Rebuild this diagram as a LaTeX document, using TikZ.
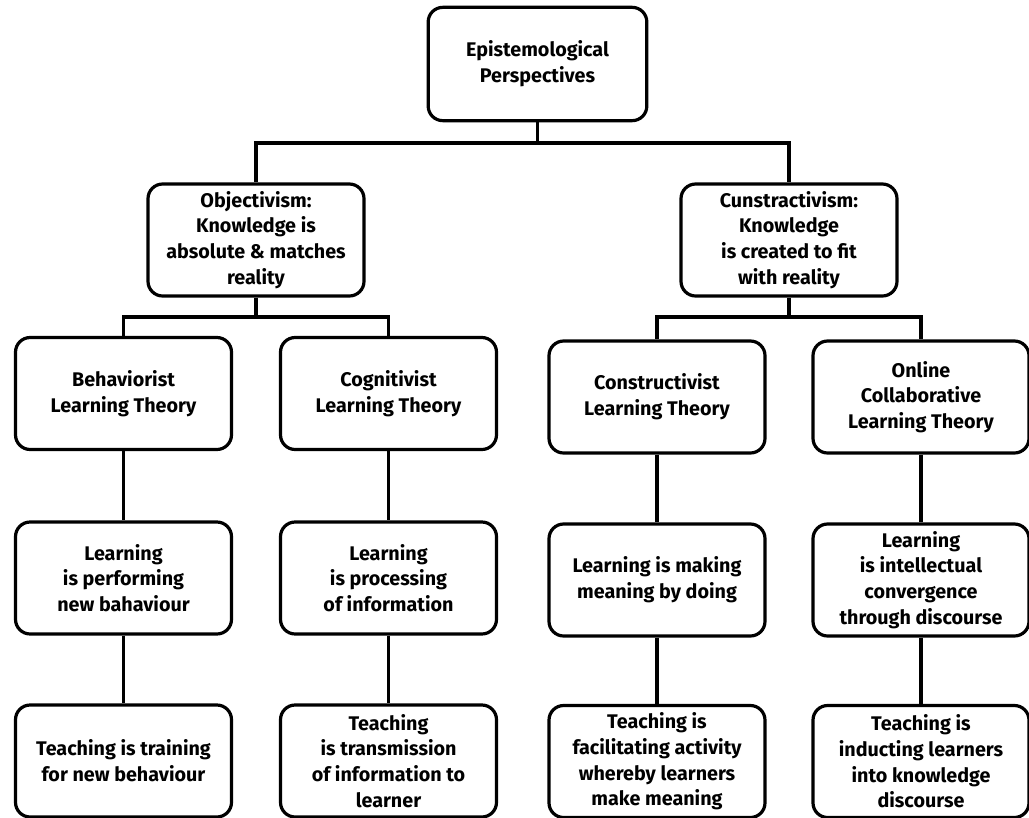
\documentclass[tikz,border=0pt]{standalone}
\usepackage{fontspec}
\setmainfont{Fira Sans}
\begin{document}
\begin{tikzpicture}[x=0.75pt,y=-0.75pt,
  box/.style={draw=black, line width=2.4pt, rounded corners=11pt, fill=white,
    minimum width=162pt, minimum height=84pt, align=center, inner sep=1pt,
    font=\fontsize{14.8}{19.3}\selectfont\bfseries},
  conn/.style={draw=black, line width=2.4pt}]
\useasboundingbox (0,0) rectangle (1029,818);
% nodes
\node[box, minimum width=164pt, minimum height=85pt] (top) at (537.5,64) {Epistemological\\Perspectives};
\node[box] (obj) at (256,240) {Objectivism:\\Knowledge is\\absolute \& matches\\reality};
\node[box] (cun) at (789,240) {Cunstractivism:\\Knowledge\\is created to fit\\with reality};
\node[box] (b1) at (123.5,393.5) {Behaviorist\\Learning Theory};
\node[box] (c1) at (388.5,393.5) {Cognitivist\\Learning Theory};
\node[box] (k1) at (657,397) {Constructivist\\Learning Theory};
\node[box] (o1) at (921,397) {Online\\Collaborative\\Learning Theory};
\node[box] (b2) at (123.5,578) {Learning\\is performing\\new bahaviour};
\node[box] (c2) at (388.5,578) {Learning\\is processing\\of information};
\node[box] (k2) at (657,580) {Learning is making\\meaning by doing};
\node[box] (o2) at (921,580) {Learning\\is intellectual\\convergence\\through discourse};
\node[box] (b3) at (123.5,761) {Teaching is training\\for new behaviour};
\node[box] (c3) at (388.5,761) {Teaching\\is transmission\\of information to\\learner};
\node[box] (k3) at (657,761.5) {Teaching is\\facilitating activity\\whereby learners\\make meaning};
\node[box] (o3) at (921,761.5) {Teaching is\\inducting learners\\into knowledge\\discourse};
% junctions
\coordinate (j1) at (537.5,143);
\coordinate (j2) at (256,317);
\coordinate (j3) at (789,317);
% connectors
\draw[conn] (top.south) -- (j1);
\draw[conn] (j1) -| (obj.north);
\draw[conn] (j1) -| (cun.north);
\draw[conn] (obj.south) -- (j2);
\draw[conn] (j2) -| (b1.north);
\draw[conn] (j2) -| (c1.north);
\draw[conn] (cun.south) -- (j3);
\draw[conn] (j3) -| (k1.north);
\draw[conn] (j3) -| (o1.north);
\draw[conn] (b1.south) -- (b2.north);
\draw[conn] (c1.south) -- (c2.north);
\draw[conn] (k1.south) -- (k2.north);
\draw[conn] (o1.south) -- (o2.north);
\draw[conn] (b2.south) -- (b3.north);
\draw[conn] (c2.south) -- (c3.north);
\draw[conn] (k2.south) -- (k3.north);
\draw[conn] (o2.south) -- (o3.north);
\end{tikzpicture}
\end{document}
